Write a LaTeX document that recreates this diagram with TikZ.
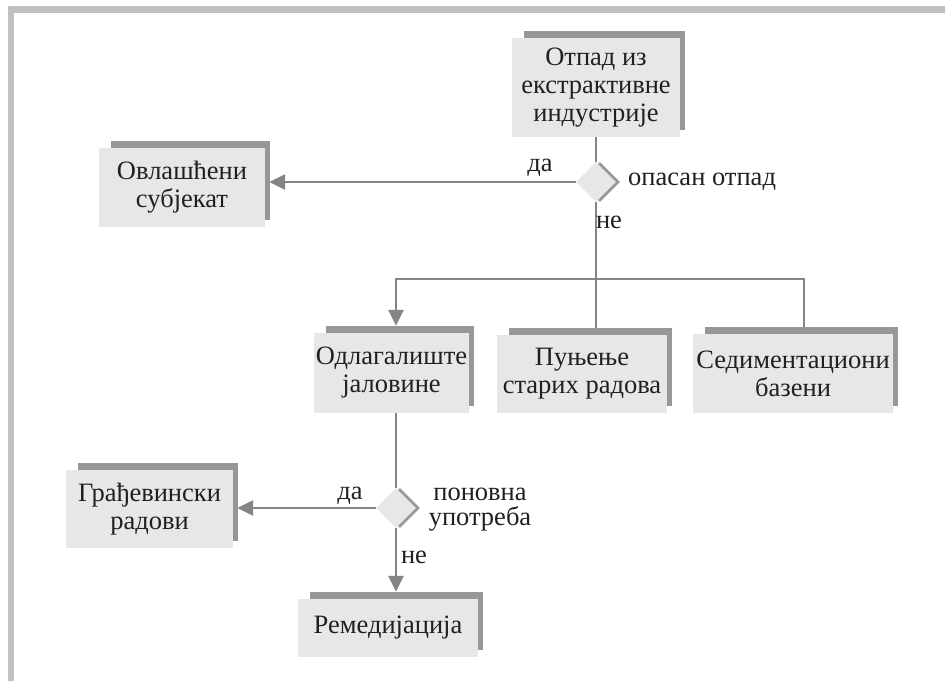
\documentclass[tikz,border=0pt]{standalone}
\usepackage{fontspec}
\setmainfont{Liberation Serif}
\usetikzlibrary{shapes.geometric,arrows.meta,backgrounds}
\definecolor{boxfill}{RGB}{230,231,232}
\definecolor{shadowc}{RGB}{150,151,153}
\definecolor{linec}{RGB}{133,133,133}
\definecolor{framec}{RGB}{192,192,192}
\definecolor{textc}{RGB}{35,31,32}
\begin{document}
\begin{tikzpicture}[x=1pt,y=-1pt,
  font=\fontsize{26.5}{28}\selectfont, text=textc,
  flowbox/.style={fill=boxfill, inner sep=0pt, align=center},
  dec/.style={diamond, fill=boxfill, inner sep=0pt, minimum width=40pt, minimum height=40pt},
  decshadow/.style={diamond, fill=shadowc, inner sep=0pt, minimum width=40pt, minimum height=40pt},
  conn/.style={draw=linec, line width=2.5pt},
  arr/.style={conn, -{Triangle[length=16pt,width=15pt]}},
  lbl/.style={inner sep=0pt}]
\useasboundingbox (0,0) rectangle (945,681);
% frame
\fill[framec] (8,6) rectangle (945,13);
\fill[framec] (8,6) rectangle (14,681);
% boxes
\node[flowbox, minimum width=168pt, minimum height=99pt] (src) at (596,87.5) {Отпад из\\екстрактивне\\индустрије};
\node[flowbox, minimum width=166pt, minimum height=79pt] (ovl) at (182,187.5) {Овлашћени\\субјекат};
\node[flowbox, minimum width=155pt, minimum height=80pt] (odl) at (391.5,373) {Одлагалиште\\јаловине};
\node[flowbox, minimum width=170pt, minimum height=78pt] (pun) at (582,374) {Пуњење\\старих радова};
\node[flowbox, minimum width=200pt, minimum height=79pt] (sed) at (793,373.5) {Седиментациони\\базени};
\node[flowbox, minimum width=167pt, minimum height=78pt] (gra) at (149.5,509) {Грађевински\\радови};
\node[flowbox, minimum width=180pt, minimum height=58pt] (rem) at (388,628) {Ремедијација};
% box shadows
\begin{scope}[on background layer]
\foreach \n in {src,ovl,odl,pun,sed,gra,rem}
  \fill[shadowc] ([xshift=12pt,yshift=7pt]\n.north west) rectangle ([xshift=5pt,yshift=7pt]\n.south east);
\end{scope}
% decisions
\node[decshadow] (d1s) at (600,182) {};
\node[dec] (d1) at (596,182) {};
\node[decshadow] (d2s) at (400,508) {};
\node[dec] (d2) at (396,508) {};
% helper coordinates
\path ([xshift=4pt]ovl.east) coordinate (ovlE);
\path ([yshift=7pt]pun.north) coordinate (punT);
\path ([yshift=7pt]odl.north) coordinate (odlT);
\path ([yshift=7pt]sed.north) coordinate (sedT);
\path ([xshift=4pt]gra.east) coordinate (graE);
\path ([yshift=7pt]rem.north) coordinate (remT);
\coordinate (jl) at (396,279);
\coordinate (jr) at (804,279);
% connectors
\draw[conn] (src) -- (d1);
\draw[arr] (d1.west) -- (d1.west -| ovlE);
\draw[conn] (d1.south) -- (d1.south |- punT);
\draw[arr] (jr |- sedT) -- (jr) -- (jl) -- (jl |- odlT);
\draw[conn] (odl.south -| d2) -- (d2.north);
\draw[arr] (d2.west) -- (d2.west -| graE);
\draw[arr] (d2.south) -- (d2.south |- remT);
% labels
\node[lbl] (l1) at (540,168) {да};
\node[lbl, anchor=west] (l2) at (628,182) {опасан отпад};
\node[lbl] (l3) at (609,222) {не};
\node[lbl] (l4) at (350,496) {да};
\node[lbl] (l5) at (414,557) {не};
\node[lbl, align=center, font=\fontsize{26.5}{25}\selectfont] (l6) at (480,510) {поновна\\употреба};
\end{tikzpicture}
\end{document}
